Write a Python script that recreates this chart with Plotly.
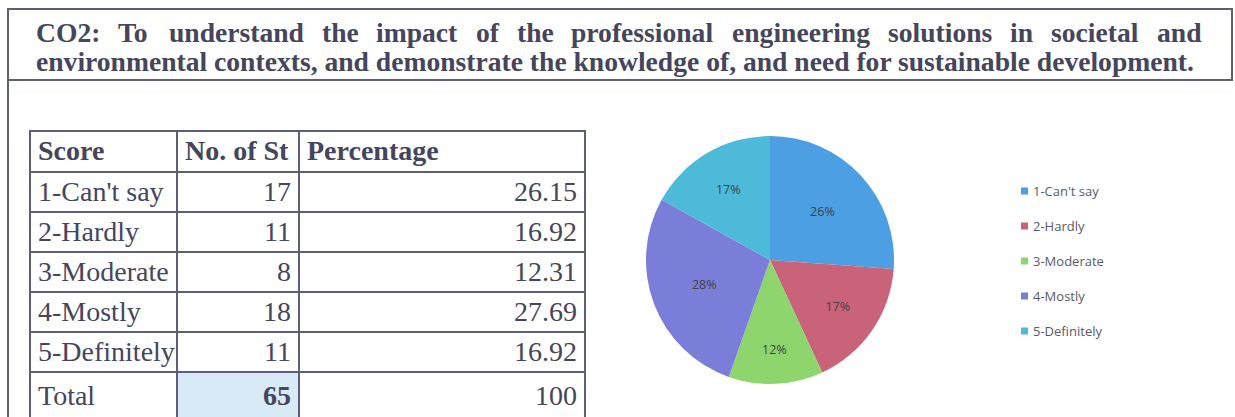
import plotly.graph_objects as go

# ---- data -------------------------------------------------------------
scores = ["1-Can't say", "2-Hardly", "3-Moderate", "4-Mostly", "5-Definitely"]
counts = [17, 11, 8, 18, 11]
percentages = [26.15, 16.92, 12.31, 27.69, 16.92]
slice_colors = ["#4c9fe2", "#c9637a", "#8fd56e", "#7b7ed8", "#4cbad8"]

heading_line1 = ("CO2: To understand the impact of the professional "
                 "engineering solutions in societal and")
heading_line2 = ("environmental contexts, and demonstrate the knowledge of, "
                 "and need for sustainable development.")
table_header = ["Score", "No. of St", "Percentage"]

# ---- page geometry (pixels) --------------------------------------------
W, H = 1235, 417


def px(x):
    return x / W


def py(y):
    return 1 - y / H


INK = "#45455c"
RULE = "#5d5d7c"
SERIF = "Liberation Serif"
SANS = "Open Sans"
NBSP = "\u00a0"

fig = go.Figure()

# ---- table ---------------------------------------------------------------
total = sum(counts)
# the total row is styled as rich text so its three cells sit on one baseline
col_score = scores + ["<span>Total</span>"]
col_count = [str(c) for c in counts] + [f"<b>{total}</b>"]
col_pct = [f"{p:g}" for p in percentages] + ["<span>100</span>"]
n_rows = len(col_score)

fig.add_trace(go.Table(
    domain=dict(x=[px(30), px(585)], y=[py(417), py(131)]),
    columnwidth=[147, 122, 286],
    header=dict(
        values=[h.replace(" ", NBSP) for h in table_header],
        align=["left", "left", "left"],
        height=41,
        fill_color="white",
        line=dict(color=RULE, width=1.8),
        font=dict(family=SERIF, size=28, color=INK, weight="bold"),
    ),
    cells=dict(
        values=[[s.replace(" ", NBSP) for s in col_score], col_count, col_pct],
        align=["left", "right", "right"],
        height=40,
        fill_color=[["white"] * n_rows,
                    ["white"] * (n_rows - 1) + ["#d9eaf7"],
                    ["white"] * n_rows],
        line=dict(color=RULE, width=1.8),
        font=dict(family=SERIF, size=28, color=INK),
    ),
))

# ---- pie -----------------------------------------------------------------
fig.add_trace(go.Pie(
    labels=scores,
    values=counts,
    sort=False,
    direction="clockwise",
    rotation=0,
    marker=dict(colors=slice_colors, line=dict(width=0)),
    texttemplate="%{percent:.0%}",
    textposition="inside",
    insidetextorientation="horizontal",
    textfont=dict(family=SANS, size=12.5, color="#404048"),
    showlegend=False,
    domain=dict(x=[px(646), px(894)], y=[py(384), py(136)]),
))

# ---- heading (justified first line) --------------------------------------
# Times-Bold advance widths (1/1000 em) for the glyphs of the first line
TB = {"C": 722, "O": 778, "2": 500, ":": 333, "T": 667, "o": 500, "u": 556,
      "n": 556, "d": 556, "e": 444, "r": 444, "s": 389, "t": 333, "a": 500,
      "h": 556, "i": 278, "m": 833, "p": 556, "c": 444, "f": 333, "l": 278,
      "g": 500}
HEAD_SIZE = 27.6
left_x, right_x = 35, 1200
words = heading_line1.split(" ")
widths = [sum(TB.get(ch, 500) for ch in w) / 1000 * HEAD_SIZE for w in words]
gap = (right_x - left_x - sum(widths)) / (len(words) - 1)
annotations = []
x = left_x
for w, wd in zip(words, widths):
    annotations.append(dict(
        x=px(x), y=py(33), xref="paper", yref="paper", text=f"<b>{w}</b>",
        showarrow=False, xanchor="left", yanchor="middle", borderpad=0,
        font=dict(family=SERIF, size=HEAD_SIZE, color=INK)))
    x += wd + gap

annotations.append(dict(
    x=px(left_x), y=py(62), xref="paper", yref="paper",
    text=f"<b>{heading_line2}</b>", showarrow=False,
    xanchor="left", yanchor="middle", borderpad=0,
    font=dict(family=SERIF, size=HEAD_SIZE, color=INK)))

# ---- frame and pie legend -------------------------------------------------
shapes = [
    dict(type="rect", xref="paper", yref="paper",
         x0=px(8), x1=px(1232), y0=py(80), y1=py(9),
         line=dict(color=RULE, width=2), fillcolor="rgba(0,0,0,0)"),
    dict(type="line", xref="paper", yref="paper",
         x0=px(8), x1=px(8), y0=py(80), y1=py(417),
         line=dict(color=RULE, width=2)),
]
for i, (lab, col) in enumerate(zip(scores, slice_colors)):
    yc = 191 + 35 * i
    shapes.append(dict(type="rect", xref="paper", yref="paper",
                       x0=px(1021), x1=px(1028), y0=py(yc + 3.5), y1=py(yc - 3.5),
                       line=dict(width=0), fillcolor=col))
    annotations.append(dict(
        x=px(1031), y=py(yc), xref="paper", yref="paper", text=lab,
        showarrow=False, xanchor="left", yanchor="middle",
        font=dict(family=SANS, size=13, color="#5a5a66")))

fig.update_layout(
    width=W, height=H,
    margin=dict(l=0, r=0, t=0, b=0),
    paper_bgcolor="white",
    plot_bgcolor="white",
    shapes=shapes,
    annotations=annotations,
)

fig.write_html("out.html")
